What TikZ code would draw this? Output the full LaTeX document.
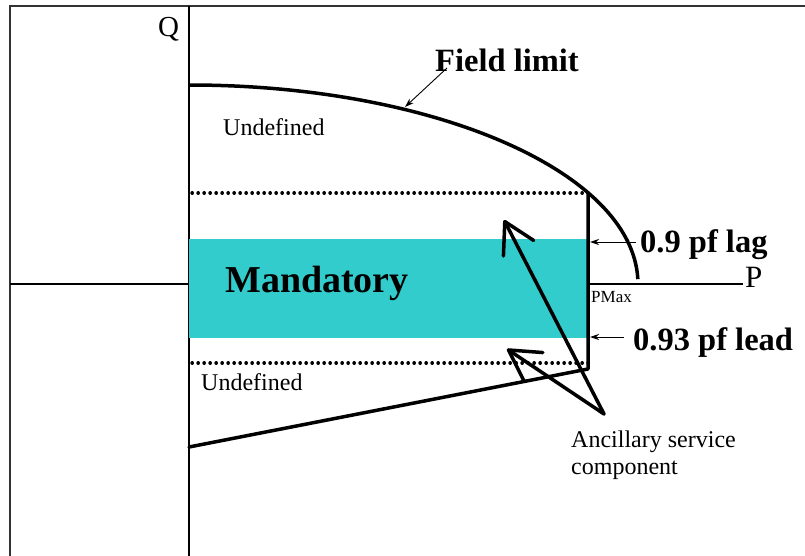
\documentclass[tikz,border=0pt]{standalone}
\usepackage{fontspec}
\setmainfont{Liberation Serif}
\usetikzlibrary{arrows.meta}
\definecolor{mandcyan}{HTML}{33CCCC}
\begin{document}
\begin{tikzpicture}[x=1pt,y=-1pt,
  frameline/.style={line width=1.5pt, draw=black!80},
  axisline/.style={line width=1.8pt, draw=black},
  boundline/.style={line width=3.5pt, line join=round, line cap=round},
  dotline/.style={line width=3.4pt, dash pattern=on 0.3pt off 5.7pt, line cap=round},
  thinarrow/.style={line width=0.9pt, -{Stealth[length=9pt,width=6pt]}},
  bigarrow/.style={line width=3.5pt, line cap=round, -{Straight Barb[length=30pt,width=34pt,round]}},
  lbl/.style={inner sep=0pt, anchor=base west},
  small/.style={lbl, font=\fontsize{24}{27}\selectfont},
  boldlbl/.style={lbl, font=\fontsize{32.5}{36}\selectfont\bfseries},
]
\useasboundingbox (0,0) rectangle (805,556);

% frame
\draw[frameline] (10,556) -- (10,6) -- (805,6);

% axes
\coordinate (qtop) at (189,6);
\coordinate (qbot) at (189,556);
\coordinate (pleft) at (10,284);
\coordinate (pright) at (743,284);
\draw[axisline] (qtop) -- (qbot);
\draw[axisline] (pleft) -- (pright);

% mandatory region
\fill[mandcyan] (189,239) rectangle (587,338);
\node[lbl, font=\fontsize{38}{40}\selectfont\bfseries] (mand) at (225,292) {Mandatory};

% dotted limits
\coordinate (dtl) at (192,193);
\coordinate (dtr) at (588,193);
\coordinate (dbl) at (192,363);
\coordinate (dbr) at (590,363);
\draw[dotline] (dtl) -- (dtr);
\draw[dotline] (dbl) -- (dbr);

% field limit curve
\coordinate (fstart) at (189,85);
\draw[line width=3.5pt] (fstart) arc[start angle=-90, end angle=-1.4, x radius=449, y radius=199];

% boundary line
\coordinate (vtop) at (588,193);
\coordinate (corner) at (588,369);
\coordinate (lowend) at (189,447);
\draw[boundline] (vtop) -- (corner) -- (lowend);

% labels
\node[lbl, font=\fontsize{29}{32}\selectfont] (q) at (158,37) {Q};
\node[lbl, font=\fontsize{31}{34}\selectfont] (p) at (745,287) {P};
\node[lbl, font=\fontsize{17}{19}\selectfont] (pmax) at (591,302) {PMax};
\node[small] (und1) at (223,136) {Undefined};
\node[small] (und2) at (201,390) {Undefined};

\node[boldlbl] (field) at (435,72) {Field limit};
\coordinate (fieldtail) at (447,68);
\coordinate (fieldtip) at (405,107);
\draw[thinarrow] (fieldtail) -- (fieldtip);

\node[boldlbl] (lag) at (640,252) {0.9 pf lag};
\coordinate (lagtail) at (636,242);
\coordinate (lagtip) at (590,242);
\draw[thinarrow] (lagtail) -- (lagtip);

\node[boldlbl] (lead) at (633,350) {0.93 pf lead};
\coordinate (leadtail) at (624,337);
\coordinate (leadtip) at (590,337);
\draw[thinarrow] (leadtail) -- (leadtip);

% ancillary service
\node[small, anchor=north west, align=left] (anc) at (571,430.5) {Ancillary service\\component};
\coordinate (ancsrc) at (604,414);
\coordinate (tip1) at (504,220);
\coordinate (tip2) at (507,349);
\draw[bigarrow] (ancsrc) -- (tip1);
\draw[bigarrow] (ancsrc) -- (tip2);
\end{tikzpicture}
\end{document}
